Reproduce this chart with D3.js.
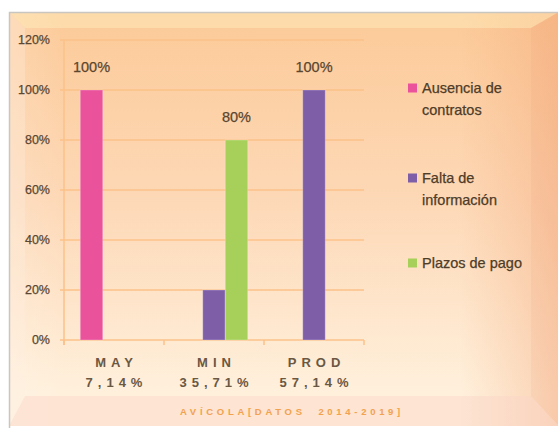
<!DOCTYPE html>
<html><head><meta charset="utf-8">
<script src="https://cdn.jsdelivr.net/npm/d3@7"></script>
<style>html,body{margin:0;padding:0;background:#fff;}svg{display:block;}</style>
</head><body>
<script>
// ---- data ----
const categories = ["MAY", "MIN", "PROD"];
const categoryShares = ["7,14%", "35,71%", "57,14%"];
const seriesNames = ["Ausencia de contratos", "Falta de información", "Plazos de pago"];
const legendLines = [["Ausencia de", "contratos"], ["Falta de", "información"], ["Plazos de pago"]];
const ausencia = [100, 0, 0];
const falta = [0, 20, 100];
const plazos = [0, 80, 0];
const ausenciaLabels = ["100%", "", ""];
const faltaLabels = ["", "", "100%"];
const plazosLabels = ["", "80%", ""];
const yTicks = [0, 20, 40, 60, 80, 100, 120];
const title = "AVÍCOLA[DATOS  2014-2019]";
const colors = ["#ea529c", "#7f5ea8", "#a6d05a"];

const W = 558, H = 428;
const svg = d3.select("body").append("svg").attr("width", W).attr("height", H);
const defs = svg.append("defs");

const g1 = defs.append("linearGradient").attr("id", "bgv").attr("x1", 0).attr("y1", 0).attr("x2", 0).attr("y2", 1);
g1.append("stop").attr("offset", "0%").attr("stop-color", "#fcca98");
g1.append("stop").attr("offset", "45%").attr("stop-color", "#fdd8b6");
g1.append("stop").attr("offset", "92%").attr("stop-color", "#fff0dc");
g1.append("stop").attr("offset", "100%").attr("stop-color", "#fff0dc");
const g2 = defs.append("linearGradient").attr("id", "bgh").attr("x1", 0).attr("y1", 0).attr("x2", 1).attr("y2", 0);
g2.append("stop").attr("offset", "0%").attr("stop-color", "#fff").attr("stop-opacity", 0.15);
g2.append("stop").attr("offset", "10%").attr("stop-color", "#fff").attr("stop-opacity", 0);
g2.append("stop").attr("offset", "82%").attr("stop-color", "#f3a878").attr("stop-opacity", 0);
g2.append("stop").attr("offset", "100%").attr("stop-color", "#f3a070").attr("stop-opacity", 0.4);

// frame
const FX = 9, FY = 12, R = 559, B = 426, bt = 16, bl = 16, br = 28, bb = 30;
svg.append("rect").attr("x", FX).attr("y", FY).attr("width", R - FX).attr("height", B - FY).attr("fill", "url(#bgv)");
svg.append("rect").attr("x", FX).attr("y", FY).attr("width", R - FX).attr("height", B - FY).attr("fill", "url(#bgh)");
const bevels = [
  {pts: [[FX, FY], [R, FY], [R - br, FY + bt], [FX + bl, FY + bt]], fill: "rgba(255,240,190,0.45)"},
  {pts: [[FX, FY], [FX + bl, FY + bt], [FX + bl, B - bb], [FX, B]], fill: "rgba(255,240,225,0.3)"},
  {pts: [[R, FY], [R, B], [R - br, B - bb], [R - br, FY + bt]], fill: "rgba(240,150,110,0.1)"},
  {pts: [[FX, B], [R, B], [R - br, B - bb], [FX + bl, B - bb]], fill: "rgba(250,212,200,0.45)"}
];
svg.selectAll("polygon.bevel").data(bevels).enter().append("polygon")
  .attr("points", d => d.pts.map(p => p.join(",")).join(" ")).attr("fill", d => d.fill);
svg.append("path").attr("d", `M${FX + 0.5},${H} V${FY + 0.5} H${W}`).attr("fill", "none").attr("stroke", "#c9c6c2").attr("stroke-width", 1.5);

// scales
const x0 = d3.scaleBand().domain(categories).range([64, 364]).padding(0);
const groupW = x0.bandwidth() * 0.675;
const x1 = d3.scaleBand().domain(seriesNames).range([0, groupW]).padding(0);
const y = d3.scaleLinear().domain([0, 120]).range([340, 40]);

const gridColor = "#fbc28a";
const font = "Liberation Sans, Arial, sans-serif";
// gridlines
svg.append("g").selectAll("line").data(yTicks).enter().append("line")
  .attr("x1", 60).attr("x2", 364).attr("y1", d => y(d)).attr("y2", d => y(d))
  .attr("stroke", gridColor).attr("stroke-width", 1.5);
// y axis line
svg.append("line").attr("x1", 64).attr("x2", 64).attr("y1", y(120)).attr("y2", y(0) + 5)
  .attr("stroke", gridColor).attr("stroke-width", 1.5);
// x ticks
const xTickPos = categories.map(c => x0(c) + x0.bandwidth()).concat([x0(categories[0])]);
svg.append("g").selectAll("line").data(xTickPos).enter().append("line")
  .attr("x1", d => d).attr("x2", d => d).attr("y1", y(0)).attr("y2", y(0) + 5)
  .attr("stroke", gridColor).attr("stroke-width", 1.5);

// y tick labels
svg.append("g").selectAll("text").data(yTicks).enter().append("text")
  .attr("x", 50).attr("y", d => y(d)).attr("dy", "0.35em").attr("text-anchor", "end")
  .attr("font-family", font).attr("font-size", 12.5)
  .attr("fill", "#5a4631").attr("stroke", "#5a4631").attr("stroke-width", 0.25).text(d => d + "%");

// bars
const seriesValues = [ausencia, falta, plazos];
const seriesLabels = [ausenciaLabels, faltaLabels, plazosLabels];
const barData = [];
seriesNames.forEach((s, si) => categories.forEach((c, ci) => {
  barData.push({s, si, c, v: seriesValues[si][ci], label: seriesLabels[si][ci]});
}));
const off = (x0.bandwidth() - groupW) / 2;
svg.append("g").selectAll("rect").data(barData.filter(d => d.v > 0)).enter().append("rect")
  .attr("x", d => x0(d.c) + off + x1(d.s)).attr("width", x1.bandwidth())
  .attr("y", d => y(d.v)).attr("height", d => y(0) - y(d.v))
  .attr("fill", d => colors[d.si]).attr("stroke", "rgba(255,255,255,0.25)").attr("stroke-width", 1);

// value labels
svg.append("g").selectAll("text").data(barData.filter(d => d.label)).enter().append("text")
  .attr("x", d => x0(d.c) + off + x1(d.s) + x1.bandwidth() / 2).attr("y", d => y(d.v) - 23)
  .attr("dy", "0.35em").attr("text-anchor", "middle")
  .attr("font-family", font).attr("font-size", 14.5)
  .attr("fill", "#5a4631").attr("stroke", "#5a4631").attr("stroke-width", 0.25).text(d => d.label);

// category labels
const ls = 5;
const catG = svg.append("g").selectAll("g").data(categories).enter().append("g");
catG.append("text").attr("x", d => x0(d) + x0.bandwidth() / 2 + ls / 2).attr("y", 362).attr("dy", "0.35em")
  .attr("text-anchor", "middle").attr("font-family", font).attr("font-weight", "bold")
  .attr("font-size", 13).attr("letter-spacing", ls).attr("fill", "#6a5843").text(d => d);
catG.append("text").attr("x", (d) => x0(d) + x0.bandwidth() / 2 + ls / 2).attr("y", 382).attr("dy", "0.35em")
  .attr("text-anchor", "middle").attr("font-family", font).attr("font-weight", "bold")
  .attr("font-size", 13).attr("letter-spacing", ls).attr("fill", "#6a5843").text((d, i) => categoryShares[i]);

// title
svg.append("text").attr("x", 292).attr("y", 412).attr("dy", "0.35em").attr("text-anchor", "middle")
  .attr("font-family", font).attr("font-weight", "bold").attr("font-size", 9.5)
  .attr("letter-spacing", 3.7).attr("fill", "#f2a24e").style("white-space", "pre").text(title);

// legend
const legY = [88, 178, 263];
const leg = svg.append("g").selectAll("g").data(seriesNames).enter().append("g");
leg.append("rect").attr("x", 408).attr("y", (d, i) => legY[i] - 4.5).attr("width", 9).attr("height", 9)
  .attr("fill", (d, i) => colors[i]);
leg.append("text").attr("font-family", font).attr("font-size", 14.5)
  .attr("fill", "#4e3c28").attr("stroke", "#4e3c28").attr("stroke-width", 0.25)
  .each(function(d, i) {
    d3.select(this).selectAll("tspan").data(legendLines[i]).enter().append("tspan")
      .attr("x", 422).attr("y", (t, j) => legY[i] + j * 21.5).attr("dy", "0.35em").text(t => t);
  });
</script>
</body></html>
